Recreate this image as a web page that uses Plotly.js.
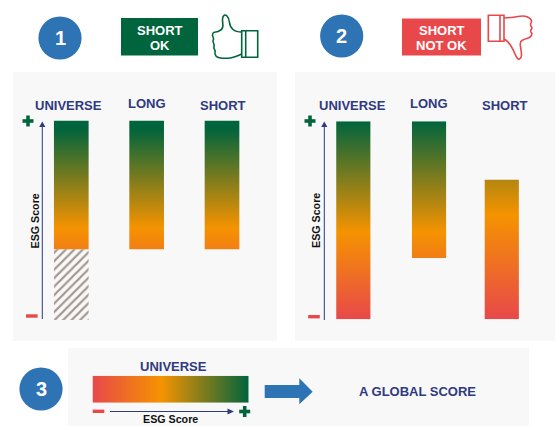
<!DOCTYPE html>
<html>
<head>
<meta charset="utf-8">
<script src="https://cdn.plot.ly/plotly-3.0.1.min.js"></script>
<style>html,body{margin:0;padding:0;background:#fff}#chart{width:555px;height:426px}</style>
</head>
<body>
<div id="chart"></div>
<script>
// ESG score coverage of the universe and of the long and short books
const categories = ['UNIVERSE', 'LONG', 'SHORT'];
const okTop = [100, 100, 100];
const okBottom = [35.5, 35.5, 35.5];
const okExcluded = [35.5, 0, 0];
const okGradient = [7, 96];
const notOkTop = [100, 100, 70.5];
const notOkBottom = [0, 31, 0];
const notOkGradientTop = [100, 100, 120];
const globalRange = [0, 100];

const badgeOk = ['SHORT', 'OK'];
const badgeNotOk = ['SHORT', 'NOT OK'];
const steps = ['1', '2', '3'];
const axisLabel = 'ESG Score';
const conclusion = 'A GLOBAL SCORE';

const NAVY = '#2f3a80', GREEN = '#00643c', RED = '#e8484a', ORANGE = '#f59300';
const BLUE = '#2e74b5', PANEL = '#f8f8f8', W = 555, H = 426;
const scoreScale = [[0, RED], [0.44, ORANGE], [1, GREEN]];
const FONT = 'Liberation Sans, Arial, sans-serif';

const fx = x => x / W;
const fy = y => 1 - y / H;
const BAR = 0.46;

function barTrace(pos, lo, hi, ax, gradientBottom, gradientTop) {
  return {
    type: 'scatter', mode: 'lines', xaxis: 'x' + ax, yaxis: 'y' + ax,
    x: [pos - BAR / 2, pos + BAR / 2, pos + BAR / 2, pos - BAR / 2, pos - BAR / 2],
    y: [lo, lo, hi, hi, lo],
    fill: 'toself', line: {width: 0}, hoverinfo: 'skip', showlegend: false,
    fillgradient: {type: 'vertical', colorscale: scoreScale, start: gradientBottom, stop: gradientTop}
  };
}

const okSlots = [0, 1, 2];
const notOkSlots = [0, 1.02, 2];
const traces = [];
categories.forEach((c, i) => traces.push(barTrace(okSlots[i], okBottom[i], okTop[i], '', okGradient[0], okGradient[1])));
categories.forEach((c, i) => traces.push(barTrace(notOkSlots[i], notOkBottom[i], notOkTop[i], '2', 0, notOkGradientTop[i])));

// Part of the universe left out of the long and short books
traces.push({
  type: 'bar', x: okSlots.slice(0, 1), y: okExcluded.slice(0, 1), base: 0, width: BAR,
  xaxis: 'x', yaxis: 'y', hoverinfo: 'skip', showlegend: false,
  marker: {color: PANEL, line: {width: 0},
    pattern: {shape: '/', fgcolor: '#a3938c', bgcolor: PANEL, size: 6, solidity: 0.36}}
});

// Single horizontal score bar for the global view
traces.push({
  type: 'scatter', mode: 'lines', xaxis: 'x3', yaxis: 'y3',
  x: [globalRange[0], globalRange[1], globalRange[1], globalRange[0], globalRange[0]],
  y: [0, 0, 1, 1, 0], fill: 'toself', line: {width: 0}, hoverinfo: 'skip', showlegend: false,
  fillgradient: {type: 'horizontal', colorscale: scoreScale, start: 0, stop: 100}
});

const hidden = {visible: false, fixedrange: true};
function domX(a, b) { return [fx(a), fx(b)]; }
function domY(top, bottom) { return [fy(bottom), fy(top)]; }

const rect = (x0, y0, x1, y1, color, layer) => ({
  type: 'rect', xref: 'paper', yref: 'paper', layer: layer || 'below',
  x0: fx(x0), x1: fx(x1), y0: fy(y0), y1: fy(y1), fillcolor: color, line: {width: 0}
});
const disc = (cx, cy, r) => ({
  type: 'circle', xref: 'paper', yref: 'paper', layer: 'below',
  x0: fx(cx - r), x1: fx(cx + r), y0: fy(cy - r), y1: fy(cy + r), fillcolor: BLUE, line: {width: 0}
});
const path = (d, fill, stroke, width) => ({
  type: 'path', xref: 'paper', yref: 'paper', layer: 'above', path: d,
  fillcolor: fill || 'rgba(0,0,0,0)', line: {color: stroke || 'rgba(0,0,0,0)', width: width || 0}
});
const poly = pts => 'M' + pts.map(p => fx(p[0]) + ',' + fy(p[1])).join('L') + 'Z';
const open = pts => 'M' + pts.map(p => fx(p[0]) + ',' + fy(p[1])).join('L');
const smooth = pts => {
  let d = 'M' + fx(pts[0][0]) + ',' + fy(pts[0][1]);
  for (let i = 1; i < pts.length - 1; i++) {
    const mx = (pts[i][0] + pts[i + 1][0]) / 2, my = (pts[i][1] + pts[i + 1][1]) / 2;
    d += 'Q' + fx(pts[i][0]) + ',' + fy(pts[i][1]) + ' ' + fx(mx) + ',' + fy(my);
  }
  const e = pts[pts.length - 1];
  return d + 'L' + fx(e[0]) + ',' + fy(e[1]);
};
const plus = (cx, cy) => [rect(cx - 5.5, cy - 1.8, cx + 5.5, cy + 1.8, GREEN, 'above'),
                          rect(cx - 1.8, cy - 5.5, cx + 1.8, cy + 5.5, GREEN, 'above')];
const minus = (cx, cy) => [rect(cx - 5.8, cy - 1.7, cx + 5.8, cy + 1.7, RED, 'above')];

const upHand = [[241.7, 32], [236, 32], [230, 27], [229, 18], [225, 14], [222, 18], [223.5, 28], [218, 32], [213.5, 32],
  [212, 35], [214, 39], [212.5, 41], [214.5, 45], [213.5, 48], [215.5, 51], [214.5, 54], [217.5, 58], [228, 58.5], [235, 57], [241.7, 54]];
const downHand = [[504, 18], [512, 17.5], [524, 15.5], [530, 18], [532, 21], [530, 25], [532.5, 28], [530, 31], [532.5, 34], [530, 37.5], [525, 39],
  [519.5, 41.5], [521.5, 52], [521.5, 58], [517.5, 60], [513, 49], [508, 41.5], [504, 39]];

const shapes = [
  rect(13, 72, 277, 341, PANEL), rect(295, 72, 555, 341, PANEL), rect(68, 348, 529, 426, PANEL),
  disc(60, 38, 21.6), disc(341.7, 36, 21.6), disc(41, 389, 21.6),
  rect(121, 18, 198, 55.5, GREEN), rect(402, 18.5, 481, 55.5, RED),

  // thumbs
  {type: 'rect', xref: 'paper', yref: 'paper', layer: 'above', x0: fx(241.7), x1: fx(257.7), y0: fy(30.7), y1: fy(57.3),
   line: {color: GREEN, width: 1.6}, fillcolor: 'rgba(0,0,0,0)'},
  path(open([[245.7, 30.7], [245.7, 57.3]]), null, GREEN, 1.6),
  path(smooth(upHand), null, GREEN, 1.6),
  {type: 'rect', xref: 'paper', yref: 'paper', layer: 'above', x0: fx(488.3), x1: fx(504), y0: fy(15.3), y1: fy(41.3),
   line: {color: RED, width: 1.6}, fillcolor: 'rgba(0,0,0,0)'},
  path(open([[500, 15.3], [500, 41.3]]), null, RED, 1.6),
  path(smooth(downHand), null, RED, 1.6),

  // score axes
  path(open([[42.3, 126], [42.3, 319]]), null, NAVY, 1),
  path(poly([[42.3, 121.5], [39.2, 127], [45.4, 127]]), NAVY),
  path(open([[324.3, 126], [324.3, 320]]), null, NAVY, 1),
  path(poly([[324.3, 121.5], [321.2, 127], [327.4, 127]]), NAVY),
  path(open([[110, 411.5], [229, 411.5]]), null, NAVY, 1),
  path(poly([[234, 411.5], [227.5, 408.5], [227.5, 414.5]]), NAVY),
  ...plus(28, 121), ...minus(31.8, 316),
  ...plus(310, 121), ...minus(314, 316.7),
  ...plus(244.7, 411.5), ...minus(98.5, 411.3),

  // arrow towards the conclusion
  path(poly([[264.7, 385], [299.3, 385], [299.3, 378.3], [312.7, 391.7], [299.3, 404.3], [299.3, 398], [264.7, 398]]), BLUE)
];

const label = (text, x, y, size, color, rotate) => ({
  text, x: fx(x), y: fy(y), xref: 'paper', yref: 'paper', xanchor: 'center', yanchor: 'middle',
  showarrow: false, textangle: rotate || 0, font: {family: FONT, size, color, weight: 700}
});

const okLabelX = [68, 147, 223], notOkLabelX = [352, 429, 505], labelY = [105, 104, 105];
const annotations = [
  ...categories.map((c, i) => label(c, okLabelX[i], labelY[i], 13, NAVY)),
  ...categories.map((c, i) => label(c, notOkLabelX[i], labelY[i], 13, NAVY)),
  label(categories[0], 173.5, 366, 13, NAVY),
  label(steps[0], 60, 38, 20, '#fff'), label(steps[1], 341.7, 36, 20, '#fff'), label(steps[2], 41, 389, 20, '#fff'),
  label(badgeOk[0], 160, 30.5, 13, '#fff'), label(badgeOk[1], 160, 45.5, 13, '#fff'),
  label(badgeNotOk[0], 441.5, 30.5, 13, '#fff'), label(badgeNotOk[1], 441.5, 45.5, 13, '#fff'),
  label(axisLabel, 34.5, 221, 10.7, '#111', -90), label(axisLabel, 316, 221, 10.7, '#111', -90),
  label(axisLabel, 170.5, 419, 10.7, '#111'),
  label(conclusion, 417, 391.7, 13, NAVY)
];

const layout = {
  width: W, height: H, margin: {l: 0, r: 0, t: 0, b: 0},
  paper_bgcolor: '#fff', plot_bgcolor: 'rgba(0,0,0,0)', showlegend: false,
  font: {family: FONT},
  xaxis:  Object.assign({domain: domX(33.6, 259.7), range: [-0.5, 2.5], anchor: 'y'}, hidden),
  yaxis:  Object.assign({domain: domY(120.5, 320), range: [0, 100], anchor: 'x'}, hidden),
  xaxis2: Object.assign({domain: domX(316.2, 538.9), range: [-0.5, 2.5], anchor: 'y2'}, hidden),
  yaxis2: Object.assign({domain: domY(121.3, 319.3), range: [0, 100], anchor: 'x2'}, hidden),
  xaxis3: Object.assign({domain: domX(92.5, 248.7), range: [0, 100], anchor: 'y3'}, hidden),
  yaxis3: Object.assign({domain: domY(375.7, 402.7), range: [0, 1], anchor: 'x3'}, hidden),
  shapes, annotations
};

Plotly.newPlot('chart', traces, layout, {displayModeBar: false, staticPlot: true});
</script>
</body>
</html>
